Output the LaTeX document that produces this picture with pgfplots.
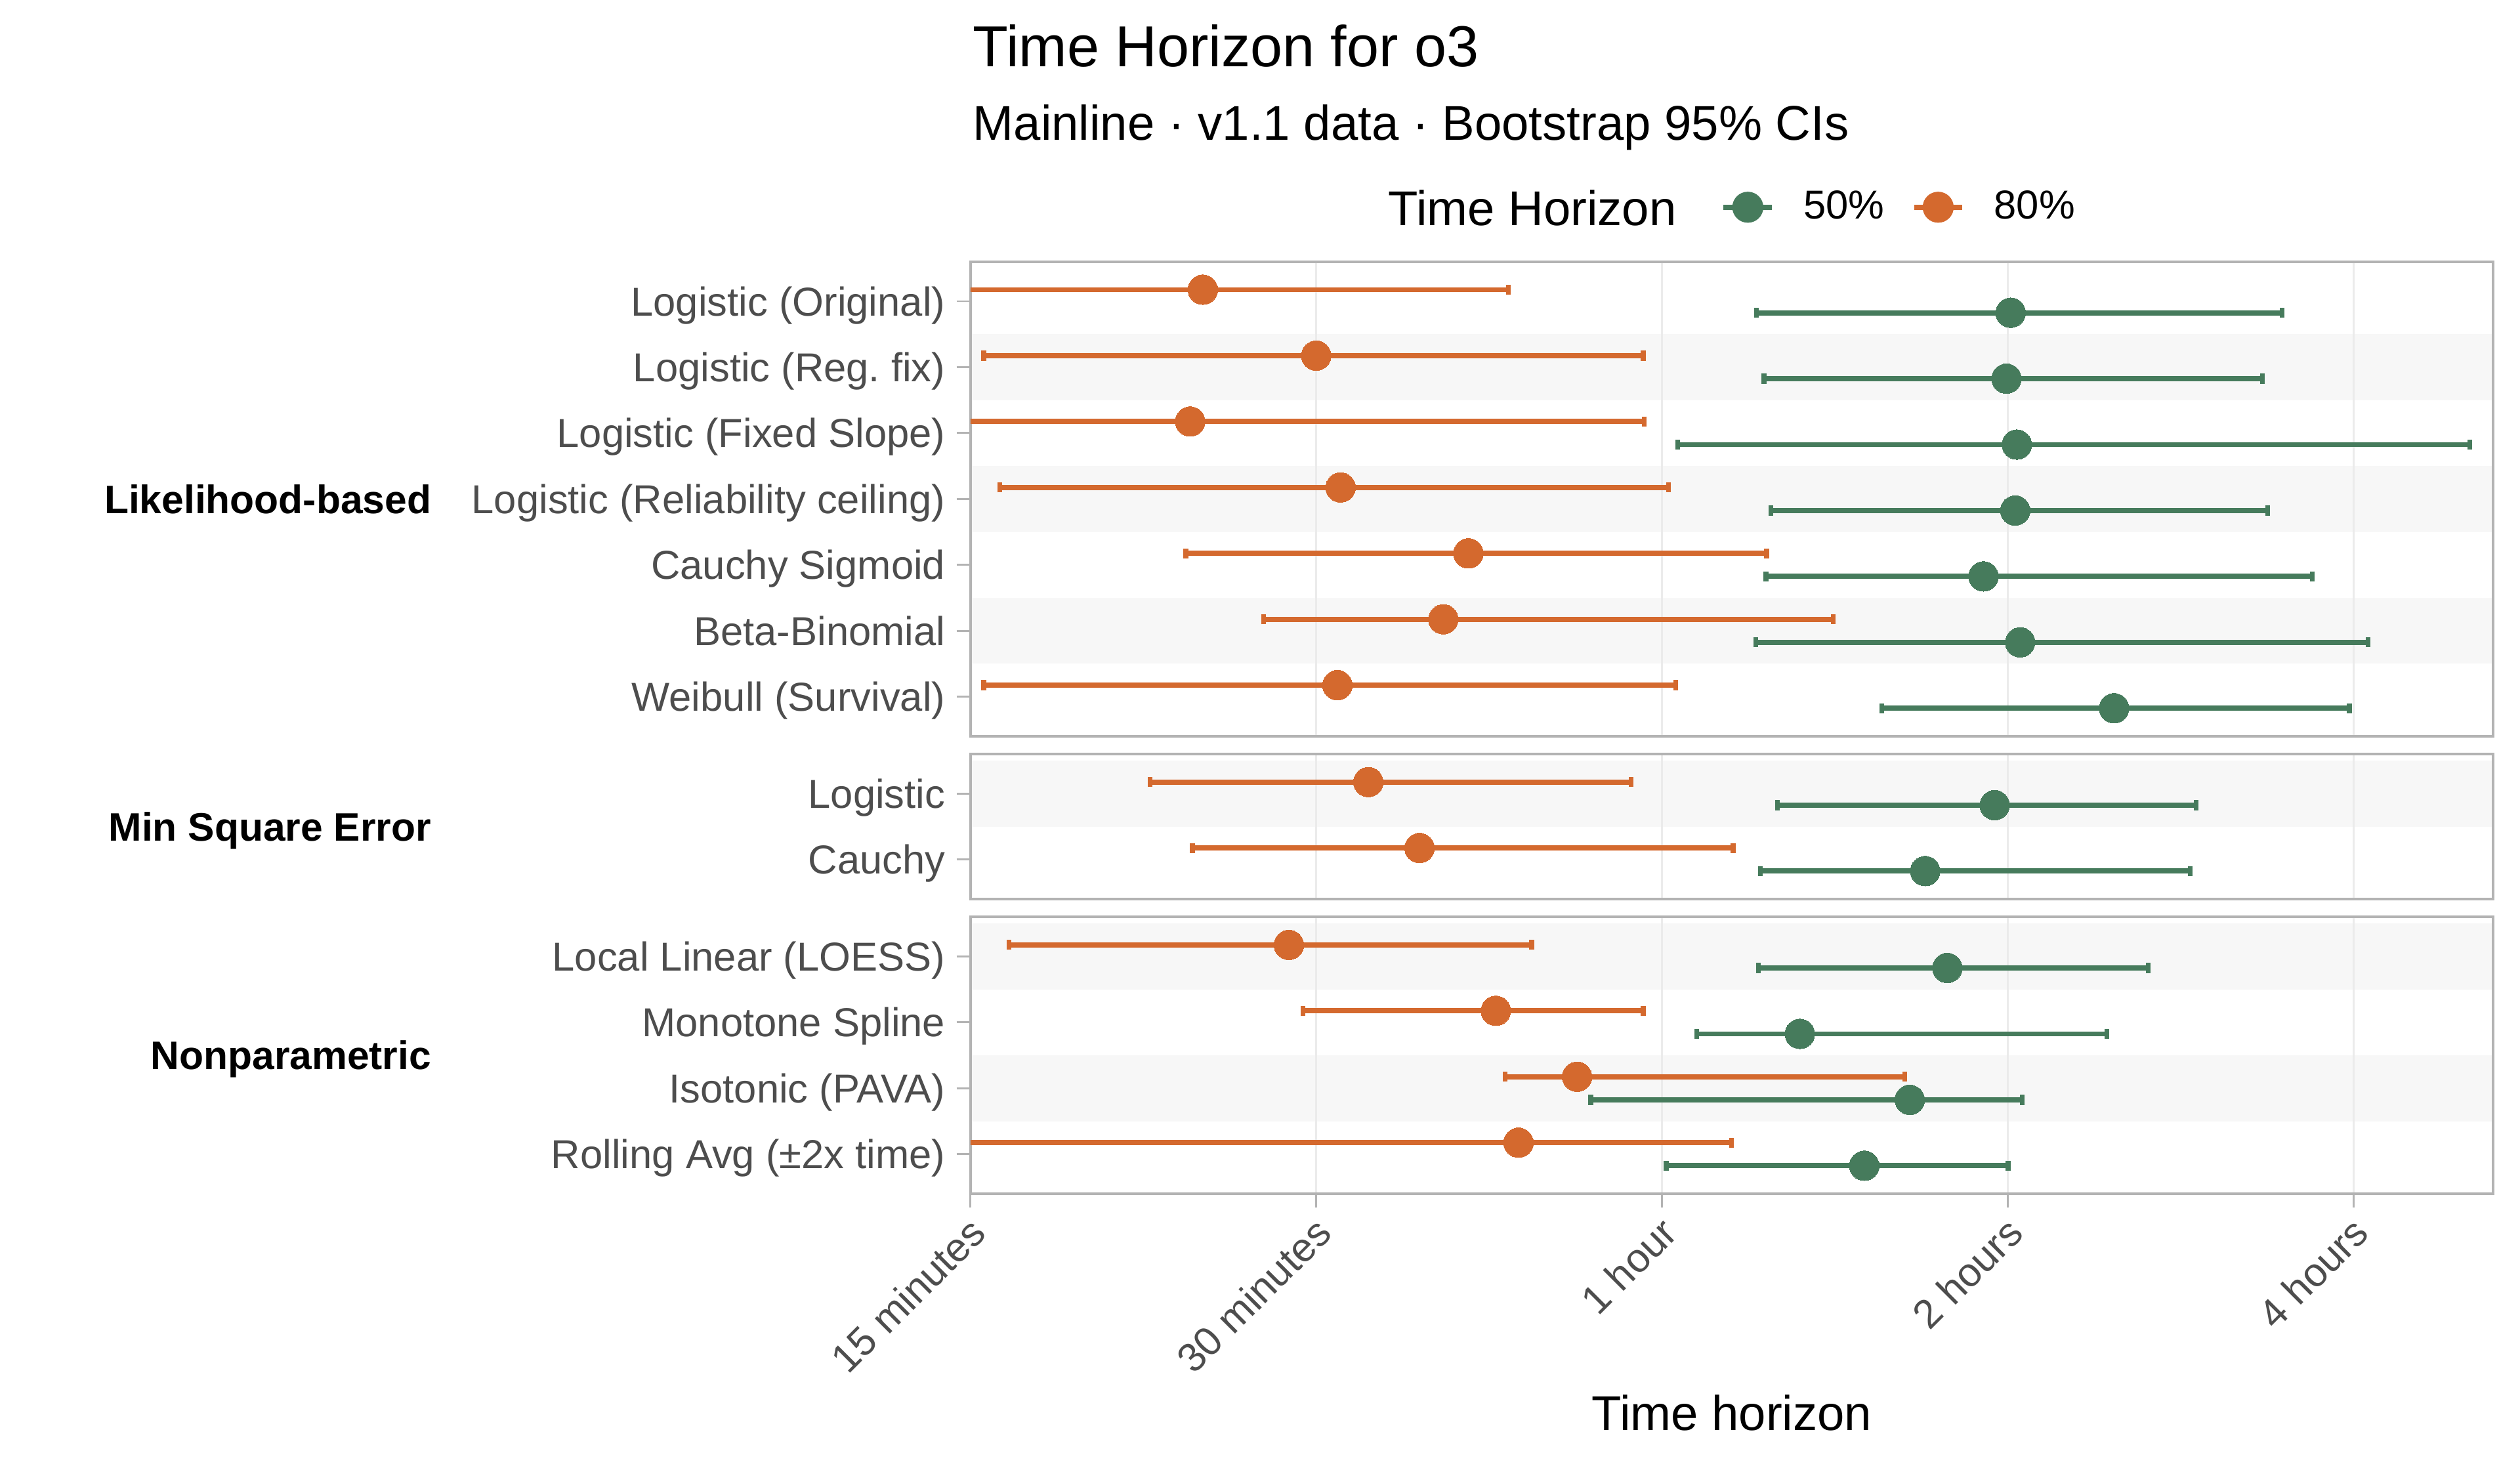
\documentclass[border=0pt]{standalone}
\usepackage{fontspec}
\setmainfont{Liberation Sans}
\usepackage{pgfplots}
\usepackage{pgfplotstable}
\pgfplotsset{compat=1.18}

\definecolor{oran}{HTML}{D4692E}
\definecolor{gren}{HTML}{467B5C}
\definecolor{stripe}{HTML}{F7F7F7}
\definecolor{gridc}{HTML}{EBEBEB}
\definecolor{bordc}{HTML}{B3B3B3}
\definecolor{txtgrey}{HTML}{4D4D4D}

% minutes: o = 80% horizon, g = 50% horizon (lo, point, hi)
\pgfplotstableread{
r olo opt ohi glo gpt ghi
1 12 23.9 44.1 72.5 120.7 208
2 15.4 30.0 57.8 73.6 119.7 200
3 12 23.3 57.9 61.9 122.2 303
4 15.9 31.5 60.8 74.6 121.8 202
5 23.1 40.7 74.0 73.9 114.3 221
6 27.0 38.7 84.6 72.4 123.0 247
7 15.4 31.3 61.7 93.2 148.5 238
}\likelihood

\pgfplotstableread{
r olo opt ohi glo gpt ghi
1 21.5 33.3 56.4 75.6 116.9 175
2 23.4 36.9 69.2 73.1 101.7 173
}\minsq

\pgfplotstableread{
r olo opt ohi glo gpt ghi
1 16.2 28.4 46.2 72.8 106.3 159
2 29.2 43.0 57.8 64.3 79.1 146.4
3 43.8 50.6 97.6 52.0 98.6 123.5
4 12 45.0 69.0 60.5 90.0 120.1
}\nonpar

\newcommand{\axtext}{\fontsize{12.5}{15}\selectfont}

\pgfplotsset{
  panel/.style={
    scale only axis, width=471.25pt, anchor=south west,
    xmin=0, xmax=4.404, y dir=reverse, ymin=0.4,
    xtick={0,1,2,3,4}, xmajorgrids,
    grid style={draw=gridc, line width=0.6pt},
    axis line style={draw=bordc, line width=0.8pt},
    tick style={draw=bordc, line width=0.6pt},
    tick align=outside, major tick length=4.3pt,
    xtick pos=bottom, ytick pos=left,
    yticklabel style={font=\axtext, color=txtgrey, anchor=base east, yshift=-4.47pt},
    clip marker paths=true, set layers,
  },
  nox/.style={xticklabels={}, xtick style={draw=none}},
  band/.style={on layer=axis background, fill=stripe, draw=none, forget plot},
}

% #1 table, #2 colour, #3 lo, #4 pt, #5 hi, #6 dodge
\newcommand{\series}[6]{%
  \addplot[#2, line width=1.6pt, only marks, mark=none, forget plot,
    error bars/.cd, x dir=both, x explicit, error mark=|,
    error bar style={draw=#2, line width=1.6pt},
    error mark options={draw=#2, line width=1.5pt, mark size=1.55pt}]
    table[x expr={ln(\thisrow{#4}/15)/ln(2)}, y expr={\thisrow{r}+#6},
          x error plus expr={ln(\thisrow{#5}/\thisrow{#4})/ln(2)},
          x error minus expr={ln(\thisrow{#4}/\thisrow{#3})/ln(2)}] {#1};
  \addplot[#2, only marks, mark=*, mark size=4.6pt, forget plot,
    mark options={draw=#2, fill=#2, line width=0pt}]
    table[x expr={ln(\thisrow{#4}/15)/ln(2)}, y expr={\thisrow{r}+#6}] {#1};
}

\begin{document}
\begin{tikzpicture}
\path (0,0) rectangle (780pt,455pt);

\node[anchor=base west, inner sep=0pt, font=\fontsize{17.9}{20}\selectfont] at (301pt,434.35pt) {Time Horizon for o3};
\node[anchor=base west, inner sep=0pt, font=\fontsize{15.1}{18}\selectfont] at (301pt,411.65pt) {Mainline · v1.1 data · Bootstrap 95\% CIs};
\node[anchor=base west, inner sep=0pt, font=\fontsize{15.1}{18}\selectfont] at (429.5pt,385.25pt) {Time Horizon};

% Likelihood-based
\begin{axis}[panel, nox, at={(300.4pt,227.1pt)}, height=146.9pt, ymax=7.6,
  ytick={1,...,7},
  yticklabels={Logistic (Original), Logistic (Reg.\ fix), Logistic (Fixed Slope),
    Logistic (Reliability ceiling), Cauchy Sigmoid, Beta-Binomial, Weibull (Survival)},
  legend columns=-1,
  legend style={at={(axis cs:2.169,-0.426)}, anchor=west, draw=none, fill=none,
    font=\axtext, inner sep=0pt,
    /tikz/every odd column/.append style={column sep=7pt},
    /tikz/every even column/.append style={column sep=6.3pt}},
]
\addplot[band] coordinates {(0,1.5) (4.404,1.5) (4.404,2.5) (0,2.5)} -- cycle;
\addplot[band] coordinates {(0,3.5) (4.404,3.5) (4.404,4.5) (0,4.5)} -- cycle;
\addplot[band] coordinates {(0,5.5) (4.404,5.5) (4.404,6.5) (0,6.5)} -- cycle;
\series{\likelihood}{oran}{olo}{opt}{ohi}{-0.175}
\series{\likelihood}{gren}{glo}{gpt}{ghi}{0.175}
\addlegendimage{legend image code/.code={
  \draw[gren, line width=1.6pt] (0pt,0pt) -- (15pt,0pt);
  \fill[gren] (7.5pt,0pt) circle (4.6pt);}}
\addlegendentry{50\%}
\addlegendimage{legend image code/.code={
  \draw[oran, line width=1.6pt] (0pt,0pt) -- (15pt,0pt);
  \fill[oran] (7.5pt,0pt) circle (4.6pt);}}
\addlegendentry{80\%}
\end{axis}

% Min Square Error
\begin{axis}[panel, nox, at={(300.4pt,176.7pt)}, height=44.9pt, ymax=2.6,
  ytick={1,2}, yticklabels={Logistic, Cauchy}]
\addplot[band] coordinates {(0,0.5) (4.404,0.5) (4.404,1.5) (0,1.5)} -- cycle;
\series{\minsq}{oran}{olo}{opt}{ohi}{-0.175}
\series{\minsq}{gren}{glo}{gpt}{ghi}{0.175}
\end{axis}

% Nonparametric
\begin{axis}[panel, at={(300.4pt,85.5pt)}, height=85.7pt, ymax=4.6,
  ytick={1,...,4},
  yticklabels={Local Linear (LOESS), Monotone Spline, Isotonic (PAVA), Rolling Avg (±2x time)},
  xticklabels={15 minutes, 30 minutes, 1 hour, 2 hours, 4 hours},
  xticklabel style={font=\axtext, color=txtgrey, yshift=-2pt, xshift=-1pt, rotate=45, anchor=north east, inner sep=0pt},
]
\addplot[band] coordinates {(0,0.5) (4.404,0.5) (4.404,1.5) (0,1.5)} -- cycle;
\addplot[band] coordinates {(0,2.5) (4.404,2.5) (4.404,3.5) (0,3.5)} -- cycle;
\series{\nonpar}{oran}{olo}{opt}{ohi}{-0.175}
\series{\nonpar}{gren}{glo}{gpt}{ghi}{0.175}
\end{axis}

\node[anchor=base east, inner sep=0pt, font=\bfseries\fontsize{12.3}{15}\selectfont] at (133.65pt,296.15pt) {Likelihood-based};
\node[anchor=base east, inner sep=0pt, font=\bfseries\fontsize{12.3}{15}\selectfont] at (133.65pt,194.75pt) {Min Square Error};
\node[anchor=base east, inner sep=0pt, font=\bfseries\fontsize{12.3}{15}\selectfont] at (133.65pt,123.95pt) {Nonparametric};

\node[anchor=base, inner sep=0pt, font=\fontsize{15.1}{18}\selectfont] at (536pt,12.25pt) {Time horizon};
\end{tikzpicture}
\end{document}
